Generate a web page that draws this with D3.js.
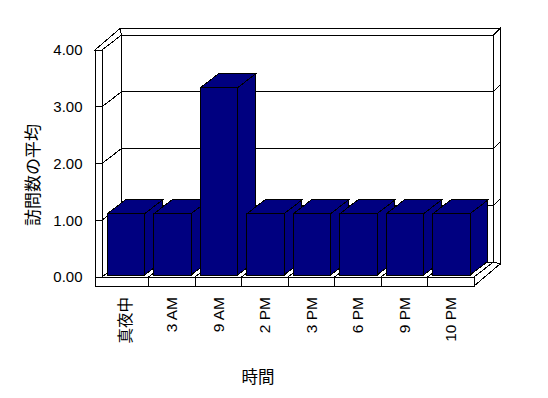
<!DOCTYPE html>
<html>
<head>
<meta charset="utf-8">
<script src="https://cdn.jsdelivr.net/npm/d3@7"></script>
<style>
  body { margin: 0; background: #fff; }
  svg { display: block; font-family: "Liberation Sans", Arial, "Noto Sans CJK JP", sans-serif; }
</style>
</head>
<body>
<svg id="chart" width="548" height="398"></svg>
<script>
// 時間帯ごとの訪問数の平均
const categories = ['真夜中', '3 AM', '9 AM', '2 PM', '3 PM', '6 PM', '9 PM', '10 PM']
const values = [1.08, 1.08, 3.3, 1.08, 1.08, 1.08, 1.08, 1.08]
const yTicks = [0, 1, 2, 3, 4]
const yTitle = '訪問数の平均'
const xTitle = '時間'

const barColor = '#000080'
const depth = { dx: 19.5, dy: -15 } // front plane -> back wall
const wall = 7      // left wall thickness
const floorH = 9    // floor thickness
const back = 6.5    // back wall thickness
const barZ = [0.13, 1.05]

const svg = d3.select('#chart')
svg.append('rect').attr('width', 548).attr('height', 398).attr('fill', '#fff')

const x = d3.scaleBand().domain(categories).range([102, 474])
const y = d3.scaleLinear().domain([0, 4]).range([277, 50])
const bw = x.bandwidth()

// point at depth z (0 = front plane, 1 = back wall)
const pt = (px, py, z) => [px + z * depth.dx, py + z * depth.dy]
const B = (px, py) => pt(px, py, 1)
const poly = pts => 'M' + pts.map(p => p.join(',')).join('L') + 'Z'
const path = d3.line()

const g = svg.append('g')
  .attr('shape-rendering', 'crispEdges')
  .attr('stroke', '#000')
  .attr('fill', '#fff')

const [x0, x1] = x.range()
const yb = y(0)
const yt = y(d3.max(yTicks))
const bl = B(x0, yt), br = B(x1, yt), bbr = B(x1, yb), bbl = B(x0, yb)

// back wall
g.append('path').attr('d', poly([bl, [bl[0] - 1.5, bl[1] - back], [br[0] + back, br[1] - back], br]))
g.append('path').attr('d', poly([br, [br[0] + back, br[1] - back], [bbr[0] + back, bbr[1] + 2], bbr]))
g.append('path').attr('d', poly([bl, br, bbr, bbl]))

// left wall
g.append('path').attr('d', poly([[x0 - wall, yt], [x0, yt], bl, [bl[0] - 1.5, bl[1] - back]]))
g.append('path').attr('d', poly([[x0, yt], bl, bbl, [x0, yb]]))
g.append('path').attr('d', poly([[x0 - wall, yt], [x0, yt], [x0, yb], [x0 - wall, yb]]))

// floor
g.append('path').attr('d', poly([[x0, yb], [x1, yb], bbr, bbl]))
g.append('path').attr('d', poly([[x1, yb], bbr, [bbr[0] + back, bbr[1] + 2], [x1, yb + floorH]]))
g.append('path').attr('d', poly([[x0 - wall, yb], [x1, yb], [x1, yb + floorH], [x0 - wall, yb + floorH]]))

// gridlines
yTicks.filter(v => v > 0 && v < d3.max(yTicks)).forEach(v => {
  const a = B(x0, y(v)), b = B(x1, y(v))
  g.append('path').attr('fill', 'none').attr('d', path([[x0 - wall, y(v)], [x0, y(v)], a, b, [b[0] + back, b[1] - back]]))
})

// category dividers on the floor
categories.slice(1).forEach(c => {
  const xi = x(c)
  g.append('path').attr('fill', 'none').attr('d', path([[xi, yb + floorH], [xi, yb], B(xi, yb)]))
})

// bars
const data = categories.map((c, i) => ({ c, v: values[i] }))
const bars = g.selectAll('g.bar')
  .data(data)
  .join('g')
  .attr('class', 'bar')
  .attr('fill', barColor)

bars.each(function (d) {
  const xl = x(d.c) + bw * 0.06
  const xr = xl + bw * 0.8
  const vt = y(d.v)
  const f = (px, py) => pt(px, py, barZ[0])
  const k = (px, py) => pt(px, py, barZ[1])
  const s = d3.select(this)
  s.append('path').attr('d', poly([f(xr, vt), k(xr, vt), k(xr, yb), f(xr, yb)]))
  s.append('path').attr('d', poly([f(xl, vt), k(xl, vt), k(xr, vt), f(xr, vt)]))
  s.append('path').attr('d', poly([f(xl, vt), f(xr, vt), f(xr, yb), f(xl, yb)]))
})

// y tick labels
svg.append('g')
  .selectAll('text')
  .data(yTicks)
  .join('text')
  .attr('x', 82.5)
  .attr('y', d => y(d))
  .attr('dy', '0.35em')
  .attr('text-anchor', 'end')
  .attr('font-size', 15)
  .attr('fill', '#000')
  .text(d3.format('.2f'))

// x tick labels
svg.append('g')
  .selectAll('text')
  .data(categories)
  .join('text')
  .attr('transform', d => `translate(${x(d) + bw / 2},297) rotate(-90)`)
  .attr('dy', '0.35em')
  .attr('text-anchor', 'end')
  .attr('font-size', 15.5)
  .attr('fill', '#000')
  .text(d => d)

// titles
svg.append('text')
  .attr('transform', 'translate(33,175) rotate(-90)')
  .attr('dy', '0.35em')
  .attr('text-anchor', 'middle')
  .attr('font-size', 17)
  .attr('fill', '#000')
  .text(yTitle)

svg.append('text')
  .attr('x', 258)
  .attr('y', 377)
  .attr('dy', '0.35em')
  .attr('text-anchor', 'middle')
  .attr('font-size', 16.5)
  .attr('fill', '#000')
  .text(xTitle)
</script>
</body>
</html>
